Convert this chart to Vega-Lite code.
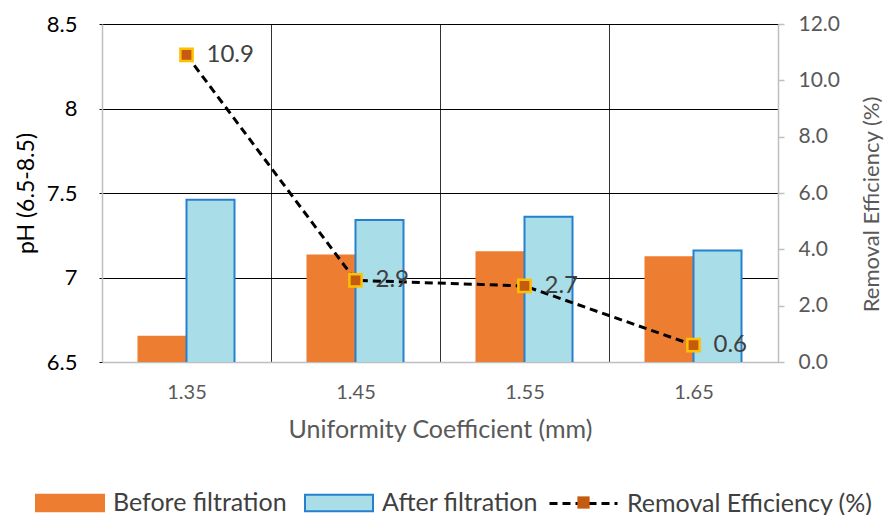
{
  "$schema": "https://vega.github.io/schema/vega-lite/v6.json",
  "width": 676,
  "height": 338,
  "autosize": {"type": "none"},
  "padding": {"left": 102, "top": 24, "right": 112, "bottom": 153},
  "background": "white",
  "config": {
    "font": "Lato",
    "view": {"stroke": null},
    "axis": {"labelFont": "Lato", "titleFont": "Lato", "titleFontWeight": "normal"},
    "legend": {"labelFont": "Lato", "padding": 0}
  },
  "datasets": {
    "bars": [
      {"uc": "1.35", "series": "Before filtration", "ph": 6.65},
      {"uc": "1.35", "series": "After filtration", "ph": 7.46},
      {"uc": "1.45", "series": "Before filtration", "ph": 7.13},
      {"uc": "1.45", "series": "After filtration", "ph": 7.34},
      {"uc": "1.55", "series": "Before filtration", "ph": 7.15},
      {"uc": "1.55", "series": "After filtration", "ph": 7.36},
      {"uc": "1.65", "series": "Before filtration", "ph": 7.12},
      {"uc": "1.65", "series": "After filtration", "ph": 7.16}
    ],
    "eff": [
      {"uc": "1.35", "series": "Removal Efficiency (%)", "re": 10.9},
      {"uc": "1.45", "series": "Removal Efficiency (%)", "re": 2.9},
      {"uc": "1.55", "series": "Removal Efficiency (%)", "re": 2.7},
      {"uc": "1.65", "series": "Removal Efficiency (%)", "re": 0.6}
    ]
  },
  "encoding": {
    "x": {
      "field": "uc",
      "type": "nominal",
      "sort": null,
      "scale": {"paddingInner": 0, "paddingOuter": 0},
      "axis": {
        "title": "Uniformity Coefficient (mm)",
        "labelAngle": 0,
        "labelFontSize": 20,
        "labelColor": "#595959",
        "labelPadding": 20,
        "titleFontSize": 25,
        "titleColor": "#595959",
        "titlePadding": 15,
        "ticks": false,
        "domainColor": "#BFBFBF",
        "domainWidth": 1.5,
        "grid": true,
        "tickBand": "extent",
        "gridColor": "#333333",
        "gridWidth": 1
      }
    }
  },
  "layer": [
    {
      "data": {"name": "bars"},
      "mark": {"type": "bar", "clip": true, "strokeWidth": 2},
      "encoding": {
        "xOffset": {
          "field": "series",
          "type": "nominal",
          "sort": ["Before filtration", "After filtration"],
          "scale": {"paddingInner": 0, "paddingOuter": 0.76}
        },
        "y": {
          "field": "ph",
          "type": "quantitative",
          "scale": {"domain": [6.5, 8.5], "zero": false, "nice": false},
          "axis": {
            "title": "pH (6.5-8.5)",
            "values": [6.5, 7, 7.5, 8, 8.5],
            "format": "~g",
            "labelFontSize": 22,
            "labelColor": "#000000",
            "labelPadding": 22,
            "tickSize": 3,
            "tickColor": "#000000",
            "domainColor": "#BFBFBF",
            "domainWidth": 1.5,
            "grid": true,
            "gridColor": "#000000",
            "gridWidth": 1,
            "titleFontSize": 23,
            "titleColor": "#000000",
            "titlePadding": 8
          }
        },
        "color": {
          "field": "series",
          "type": "nominal",
          "scale": {
            "domain": ["Before filtration", "After filtration"],
            "range": ["#ED7D31", "#A9DDE8"]
          },
          "legend": {
            "title": null,
            "orient": "none",
            "direction": "horizontal",
            "legendX": -67,
            "legendY": 444,
            "symbolType": "M-1,-0.24H1V0.24H-1Z",
            "symbolSize": 4624,
            "symbolStrokeWidth": 2,
            "symbolOpacity": 1,
            "labelFontSize": 25,
            "labelColor": "#404040",
            "labelOffset": 8,
            "columnPadding": 14,
            "labelLimit": 400
          }
        },
        "stroke": {
          "field": "series",
          "type": "nominal",
          "scale": {
            "domain": ["Before filtration", "After filtration"],
            "range": ["#ED7D31", "#2680D0"]
          },
          "legend": {
            "title": null,
            "orient": "none",
            "direction": "horizontal",
            "legendX": -67,
            "legendY": 444,
            "symbolType": "M-1,-0.24H1V0.24H-1Z",
            "symbolSize": 4624,
            "symbolStrokeWidth": 2,
            "symbolOpacity": 1,
            "labelFontSize": 25,
            "labelColor": "#404040",
            "labelOffset": 8,
            "columnPadding": 14,
            "labelLimit": 400
          }
        }
      }
    },
    {
      "data": {"name": "eff"},
      "layer": [
        {
          "mark": {"type": "line", "strokeWidth": 3, "color": "#000000"},
          "encoding": {
            "y": {
              "field": "re",
              "type": "quantitative",
              "scale": {"domain": [0, 12], "nice": false},
              "axis": {
                "orient": "right",
                "title": "Removal Efficiency (%)",
                "titleAngle": 270,
                "titleY": 180,
                "values": [0, 2, 4, 6, 8, 10, 12],
                "format": ".1f",
                "labelFontSize": 21,
                "labelColor": "#595959",
                "labelPadding": 14,
                "tickSize": 6,
                "tickColor": "#BFBFBF",
                "tickWidth": 1.5,
                "domainColor": "#BFBFBF",
                "domainWidth": 1.5,
                "grid": false,
                "titleFontSize": 22,
                "titleColor": "#595959",
                "titlePadding": 44
              }
            },
            "strokeDash": {
              "field": "series",
              "type": "nominal",
              "scale": {"range": [[8, 5]]},
              "legend": {
                "title": null,
                "orient": "none",
                "legendX": 446,
                "legendY": 444,
                "symbolType": "stroke",
                "symbolSize": 4624,
                "symbolStrokeWidth": 3,
                "symbolStrokeColor": "#000000",
                "symbolOpacity": 1,
                "labelFontSize": 25,
                "labelColor": "#404040",
                "labelOffset": 8,
                "labelLimit": 400
              }
            }
          }
        },
        {
          "mark": {"type": "point", "filled": true, "size": 150, "fill": "#C55A11", "stroke": "#FFC000", "strokeWidth": 2.5, "opacity": 1},
          "encoding": {
            "y": {"field": "re", "type": "quantitative"},
            "shape": {
              "field": "series",
              "type": "nominal",
              "scale": {"domain": ["Removal Efficiency (%)"], "range": ["square"]},
              "legend": {
                "title": null,
                "orient": "none",
                "legendX": 474,
                "legendY": 471,
                "symbolSize": 150,
                "symbolFillColor": "#C55A11",
                "symbolStrokeColor": "#FFC000",
                "symbolStrokeWidth": 2.5,
                "symbolOpacity": 1,
                "labelExpr": "''",
                "labelFontSize": 1
              }
            }
          }
        },
        {
          "mark": {"type": "text", "align": "left", "baseline": "middle", "dx": 20, "fontSize": 24, "color": "#404040", "font": "Lato"},
          "encoding": {
            "y": {"field": "re", "type": "quantitative"},
            "text": {"field": "re", "type": "quantitative", "format": ".1f"}
          }
        }
      ]
    }
  ],
  "resolve": {"scale": {"y": "independent"}}
}
